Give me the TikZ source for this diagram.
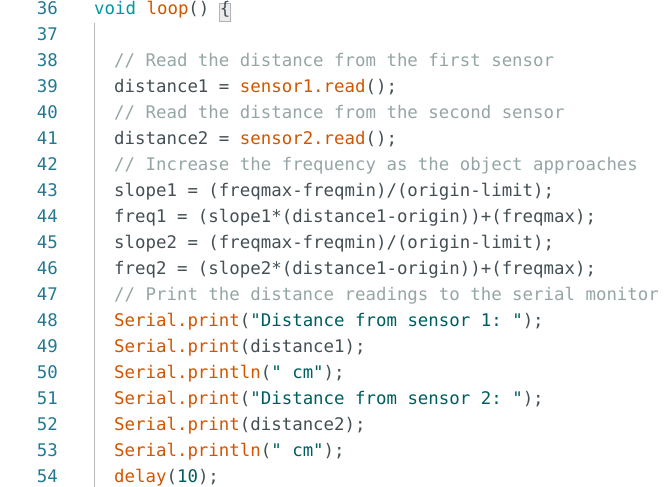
\documentclass[tikz,border=0pt]{standalone}
\usepackage{fontspec}
\setmonofont{DejaVu Sans Mono}

\definecolor{lnum}{HTML}{237893}
\definecolor{kw}{HTML}{00979D}
\definecolor{fn}{HTML}{D35400}
\definecolor{txt}{HTML}{434F54}
\definecolor{cmt}{HTML}{95A5A6}
\definecolor{str}{HTML}{005C5F}

\begin{document}
\begin{tikzpicture}[x=1pt,y=1pt]
\tikzstyle{num}=[anchor=base east,inner sep=0pt,text=lnum,font=\ttfamily\fontsize{17.4}{20}\selectfont]
\tikzstyle{code}=[anchor=base west,inner sep=0pt,text=txt,font=\ttfamily\fontsize{17.4}{20}\selectfont]
\tikzstyle{guide}=[draw=black!28,line width=1.5pt]
\tikzstyle{bracebox}=[fill=black!8,draw=black!30,line width=0.8pt]

\useasboundingbox (0,0) rectangle (667,487);

% line numbers
\foreach \i in {36,...,54}
  \node[num] (n\i) at (58,{472-(\i-36)*26}) {\i};

% indent guide and matching brace
\draw[guide] (94.5,464) -- (94.5,0);
\draw[bracebox] (219.5,466) rectangle (230,484);

\node[code] (c36) at (94,472) {\textcolor{kw}{void} \textcolor{fn}{loop}() \{};

\node[code] (c38) at (114,420) {\textcolor{cmt}{// Read the distance from the first sensor}};
\node[code] (c39) at (114,394) {distance1 = \textcolor{fn}{sensor1.read}();};
\node[code] (c40) at (114,368) {\textcolor{cmt}{// Read the distance from the second sensor}};
\node[code] (c41) at (114,342) {distance2 = \textcolor{fn}{sensor2.read}();};
\node[code] (c42) at (114,316) {\textcolor{cmt}{// Increase the frequency as the object approaches}};
\node[code] (c43) at (114,290) {slope1 = (freqmax-freqmin)/(origin-limit);};
\node[code] (c44) at (114,264) {freq1 = (slope1*(distance1-origin))+(freqmax);};
\node[code] (c45) at (114,238) {slope2 = (freqmax-freqmin)/(origin-limit);};
\node[code] (c46) at (114,212) {freq2 = (slope2*(distance1-origin))+(freqmax);};
\node[code] (c47) at (114,186) {\textcolor{cmt}{// Print the distance readings to the serial monitor}};
\node[code] (c48) at (114,160) {\textcolor{fn}{Serial.print}(\textcolor{str}{"Distance from sensor 1: "});};
\node[code] (c49) at (114,134) {\textcolor{fn}{Serial.print}(distance1);};
\node[code] (c50) at (114,108) {\textcolor{fn}{Serial.println}(\textcolor{str}{" cm"});};
\node[code] (c51) at (114,82) {\textcolor{fn}{Serial.print}(\textcolor{str}{"Distance from sensor 2: "});};
\node[code] (c52) at (114,56) {\textcolor{fn}{Serial.print}(distance2);};
\node[code] (c53) at (114,30) {\textcolor{fn}{Serial.println}(\textcolor{str}{" cm"});};
\node[code] (c54) at (114,4) {\textcolor{fn}{delay}(\textcolor{str}{10});};

\end{tikzpicture}
\end{document}
